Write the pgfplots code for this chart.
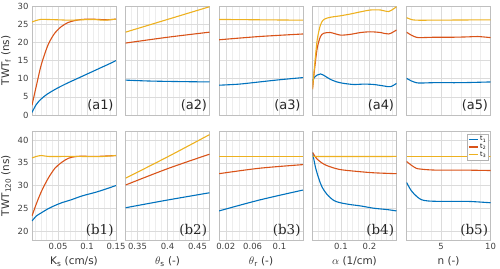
\documentclass[border=0pt]{standalone}
\usepackage{fontspec}
\setmainfont{DejaVu Sans}
\newfontfamily\serifb{DejaVu Serif}
\usepackage{pgfplots}
\pgfplotsset{compat=1.18}

\definecolor{c1}{rgb}{0,0.447,0.741}
\definecolor{c2}{rgb}{0.85,0.325,0.098}
\definecolor{c3}{rgb}{0.929,0.694,0.125}

\pgfplotsset{
  panel/.style={
    scale only axis, width=84bp, height=109bp,
    axis line style={black!25},
    grid=both,
    major grid style={black!14, line width=0.4bp},
    minor grid style={black!7, line width=0.3bp},
    major tick length=0pt, minor tick length=0pt,
    tick label style={font=\fontsize{8.5}{9}\selectfont, text=black!75},
    label style={font=\fontsize{10.5}{11}\selectfont, text=black!80},
    /pgf/number format/assume math mode=true,
    every axis plot/.append style={line width=1.1bp, smooth},
  },
  top/.style={ymin=0, ymax=30, ytick={0,5,...,30}, xticklabels={}},
  bot/.style={ymin=18, ymax=42, ytick={20,25,...,40}},
  noy/.style={yticklabels={}},
  col1/.style={xmin=0.005, xmax=0.15, xtick={0.05,0.1,0.15},
    xticklabels={0.05,0.1,0.15}, minor xtick={0.01,0.02,...,0.145}},
  col2/.style={xmin=0.33, xmax=0.47, xtick={0.35,0.4,0.45},
    xticklabels={0.35,0.4,0.45}, minor xtick={0.34,0.35,...,0.465}},
  col3/.style={xmin=0.01, xmax=0.135, xtick={0.02,0.06,0.1},
    xticklabels={0.02,0.06,0.1}, minor xtick={0.02,0.03,...,0.135}},
  col4/.style={xmin=0, xmax=0.295, xtick={0.1,0.2},
    xticklabels={0.1,0.2}, minor xtick={0.02,0.04,...,0.29}},
  col5/.style={xmin=1.5, xmax=10, xtick={5,10},
    xticklabels={5,10}, minor xtick={2,3,...,10}},
}
\newcommand{\plab}[1]{\node[anchor=south east, inner sep=1pt, font=\fontsize{13}{13}\selectfont, text=black!85] at (rel axis cs:0.985,0.02) {#1};}
\newcommand{\plabb}[1]{\node[anchor=south east, inner sep=1pt, font=\serifb\fontsize{13.5}{13.5}\selectfont, text=black!85] at (rel axis cs:0.985,0.02) {#1};}

\begin{document}
\begin{tikzpicture}
\path[use as bounding box] (0,0) rectangle (500bp,-269bp);

% ---------- top row: TWT_f ----------
\begin{axis}[panel, col1, top, at={(32bp,-115bp)}, anchor=south west,
  ylabel={TWT\textsubscript{f} (ns)}]
\addplot[c1] coordinates {(0.005,0.7) (0.012,2.8) (0.02,4.3) (0.03,5.6) (0.04,6.6) (0.05,7.5) (0.065,8.7) (0.08,9.8) (0.095,10.9) (0.11,12.0) (0.125,13.1) (0.14,14.2) (0.15,15.0)};
\addplot[c2] coordinates {(0.005,2.7) (0.0126,8.1) (0.0213,14.0) (0.033,19.4) (0.0446,22.6) (0.0562,24.4) (0.0679,25.5) (0.0795,26.0) (0.0912,26.3) (0.105,26.4) (0.12,26.3) (0.135,26.2) (0.15,26.4)};
\addplot[c3] coordinates {(0.005,25.6) (0.012,26.0) (0.02,26.3) (0.03,26.3) (0.05,26.2) (0.07,26.1) (0.09,26.2) (0.11,26.3) (0.13,26.1) (0.15,26.4)};
\plab{(a1)}
\end{axis}

\begin{axis}[panel, col2, top, noy, at={(125.5bp,-115bp)}, anchor=south west]
\addplot[c1] coordinates {(0.33,9.6) (0.37,9.35) (0.42,9.2) (0.47,9.1)};
\addplot[c2] coordinates {(0.33,19.8) (0.4,21.4) (0.47,22.8)};
\addplot[c3] coordinates {(0.33,22.8) (0.4,26.3) (0.47,29.8)};
\plab{(a2)}
\end{axis}

\begin{axis}[panel, col3, top, noy, at={(219bp,-115bp)}, anchor=south west]
\addplot[c1] coordinates {(0.01,8.2) (0.04,8.5) (0.07,9.1) (0.1,9.7) (0.135,10.3)};
\addplot[c2] coordinates {(0.01,20.7) (0.07,21.6) (0.135,22.3)};
\addplot[c3] coordinates {(0.01,26.3) (0.135,26.1)};
\plab{(a3)}
\end{axis}

\begin{axis}[panel, col4, top, noy, at={(312.5bp,-115bp)}, anchor=south west]
\addplot[c1] coordinates {(0,9.4) (0.007,10.4) (0.0164,11.0) (0.028,11.3) (0.040,10.9) (0.063,9.8) (0.086,9.1) (0.11,8.7) (0.145,8.4) (0.18,8.5) (0.215,8.4) (0.25,8.0) (0.274,7.8) (0.295,8.7)};
\addplot[c2] coordinates {(0,7.1) (0.007,12.4) (0.0164,18.3) (0.028,21.6) (0.040,22.5) (0.063,22.7) (0.098,22.0) (0.133,22.2) (0.169,22.7) (0.204,22.9) (0.239,22.7) (0.268,22.3) (0.295,23.4)};
\addplot[c3] coordinates {(0,7.1) (0.007,13.3) (0.0164,20.6) (0.028,24.8) (0.040,26.3) (0.063,26.9) (0.098,27.3) (0.133,27.8) (0.169,28.4) (0.204,28.9) (0.239,28.9) (0.268,28.5) (0.295,29.8)};
\plab{(a4)}
\end{axis}

\begin{axis}[panel, col5, top, noy, at={(406.5bp,-115bp)}, anchor=south west]
\addplot[c1] coordinates {(1.5,10.1) (1.97,9.4) (2.48,8.9) (2.98,8.8) (4.33,8.9) (7,8.9) (10,9.1)};
\addplot[c2] coordinates {(1.5,22.8) (1.97,22.0) (2.48,21.4) (2.98,21.3) (4.33,21.4) (6.02,21.4) (7.71,21.5) (8.72,21.6) (10,21.3)};
\addplot[c3] coordinates {(1.5,26.8) (1.97,26.3) (2.48,26.1) (4,26.1) (10,26.2)};
\plab{(a5)}
\end{axis}

% ---------- bottom row: TWT_120 ----------
\begin{axis}[panel, col1, bot, at={(32bp,-240bp)}, anchor=south west,
  ylabel={TWT\textsubscript{120} (ns)}, xlabel={K\textsubscript{s} (cm/s)}]
\addplot[c1] coordinates {(0.005,22.2) (0.0126,23.3) (0.0213,24.0) (0.033,24.9) (0.0446,25.6) (0.0562,26.2) (0.0737,26.9) (0.0912,27.7) (0.1145,28.5) (0.132,29.2) (0.15,30.0)};
\addplot[c2] coordinates {(0.005,23.3) (0.0126,26.0) (0.0213,28.7) (0.033,31.6) (0.0446,33.8) (0.0562,35.1) (0.0679,36.0) (0.0795,36.35) (0.0912,36.45) (0.115,36.4) (0.15,36.6)};
\addplot[c3] coordinates {(0.005,36.06) (0.0126,36.4) (0.0213,36.6) (0.033,36.4) (0.06,36.4) (0.09,36.4) (0.12,36.35) (0.15,36.6)};
\plabb{(b1)}
\end{axis}

\begin{axis}[panel, col2, bot, noy, at={(125.5bp,-240bp)}, anchor=south west,
  xlabel={$\theta$\textsubscript{s} (-)}]
\addplot[c1] coordinates {(0.33,25.1) (0.4,26.8) (0.47,28.4)};
\addplot[c2] coordinates {(0.33,30.1) (0.4,33.7) (0.47,36.9)};
\addplot[c3] coordinates {(0.33,31.6) (0.4,36.3) (0.47,41.2)};
\plabb{(b2)}
\end{axis}

\begin{axis}[panel, col3, bot, noy, at={(219bp,-240bp)}, anchor=south west,
  xlabel={$\theta$\textsubscript{r} (-)}]
\addplot[c1] coordinates {(0.01,24.4) (0.07,26.8) (0.135,29.0)};
\addplot[c2] coordinates {(0.01,32.6) (0.07,33.8) (0.135,34.6)};
\addplot[c3] coordinates {(0.01,36.4) (0.135,36.4)};
\plabb{(b3)}
\end{axis}

\begin{axis}[panel, col4, bot, noy, at={(312.5bp,-240bp)}, anchor=south west,
  xlabel={$\alpha$ (1/cm)}]
\addplot[c1] coordinates {(0,37.3) (0.0105,34.0) (0.0222,31.5) (0.034,29.6) (0.0515,28.0) (0.075,26.7) (0.098,26.2) (0.133,25.8) (0.169,25.5) (0.215,25.0) (0.262,24.7) (0.295,24.4)};
\addplot[c2] coordinates {(0,37.3) (0.0164,35.8) (0.040,34.7) (0.063,34.1) (0.098,33.5) (0.157,33.1) (0.215,32.8) (0.295,32.6)};
\addplot[c3] coordinates {(0,36.7) (0.01,36.4) (0.295,36.4)};
\plabb{(b4)}
\end{axis}

\begin{axis}[panel, col5, bot, noy, at={(406.5bp,-240bp)}, anchor=south west,
  xlabel={n (-)},
  legend style={at={(0.98,0.975)}, anchor=north east, font=\fontsize{6.5}{7}\selectfont,
    draw=black!30, inner sep=0.5pt, row sep=-2.5pt, cells={anchor=west}},
  legend image code/.code={\draw[#1] (0cm,0cm) -- (0.32cm,0cm);}]
\addplot[c1] coordinates {(1.5,30.7) (1.97,28.9) (2.48,27.7) (2.98,26.9) (3.66,26.6) (5.01,26.5) (7.71,26.5) (10,26.2)};
\addplot[c2] coordinates {(1.5,35.3) (1.97,34.5) (2.48,33.8) (2.98,33.6) (4.33,33.4) (7,33.4) (10,33.3)};
\addplot[c3] coordinates {(1.5,36.4) (10,36.4)};
\legend{t\textsubscript{1}, t\textsubscript{2}, t\textsubscript{3}}
\plabb{(b5)}
\end{axis}
\end{tikzpicture}
\end{document}
